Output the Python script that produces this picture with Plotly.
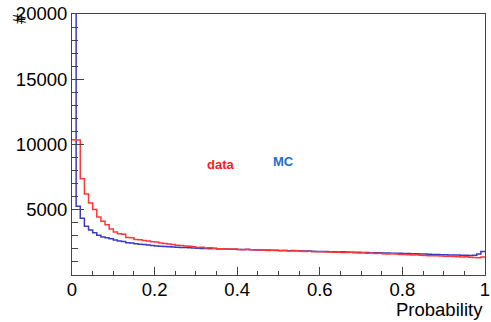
import numpy as np
import plotly.graph_objects as go

n_bins = 100
x_min, x_max = 0.0, 1.0

data_counts = [
    10370, 10350, 7380, 6210, 5520, 5010, 4450, 4120, 3860, 3530,
    3300, 3170, 3120, 2870, 2850, 2720, 2700, 2640, 2600, 2550,
    2520, 2460, 2420, 2370, 2330, 2280, 2260, 2230, 2200, 2160,
    2100, 2120, 2060, 2080, 2050, 2010, 2020, 1980, 2000, 1990,
    1960, 1940, 1970, 1930, 1920, 1940, 1900, 1880, 1900, 1870,
    1860, 1880, 1840, 1830, 1850, 1820, 1800, 1820, 1790, 1780,
    1790, 1760, 1770, 1740, 1750, 1730, 1720, 1740, 1700, 1690,
    1700, 1670, 1680, 1650, 1660, 1630, 1610, 1620, 1600, 1580,
    1570, 1560, 1540, 1550, 1520, 1500, 1480, 1470, 1480, 1450,
    1430, 1440, 1420, 1400, 1380, 1390, 1360, 1340, 1320, 1380,
]

mc_counts = [
    26000, 5260, 4350, 3730, 3450, 3230, 3050, 2920, 2850, 2770,
    2680, 2600, 2560, 2480, 2460, 2400, 2350, 2330, 2300, 2260,
    2220, 2200, 2190, 2160, 2140, 2130, 2110, 2100, 2080, 2070,
    2050, 2040, 2030, 2020, 2030, 2000, 1990, 1990, 1980, 1970,
    1960, 1950, 1960, 1940, 1930, 1920, 1910, 1920, 1900, 1890,
    1880, 1870, 1860, 1870, 1850, 1840, 1830, 1830, 1820, 1810,
    1800, 1800, 1790, 1780, 1770, 1780, 1760, 1750, 1740, 1740,
    1730, 1720, 1710, 1700, 1700, 1690, 1680, 1670, 1670, 1660,
    1650, 1640, 1630, 1620, 1610, 1600, 1590, 1580, 1570, 1560,
    1550, 1540, 1530, 1530, 1520, 1510, 1500, 1520, 1600, 1800,
]

y_ticks = [5000, 10000, 15000, 20000]
x_ticks = [0, 0.2, 0.4, 0.6, 0.8, 1]
x_tick_labels = ["0", "0.2", "0.4", "0.6", "0.8", "1"]

edges = np.linspace(x_min, x_max, n_bins + 1)

def step_xy(counts):
    xs = list(edges)
    ys = list(counts) + [counts[-1]]
    return xs, ys

fig = go.Figure()
xs, ys = step_xy(mc_counts)
fig.add_trace(go.Scatter(x=xs, y=ys, mode="lines", line=dict(color="#3a3ac4", width=1.5, shape="hv"),
                         name="MC", showlegend=False, cliponaxis=True))
xs, ys = step_xy(data_counts)
fig.add_trace(go.Scatter(x=xs, y=ys, mode="lines", line=dict(color="#ff3838", width=1.5, shape="hv"),
                         name="data", showlegend=False, cliponaxis=True))

font_family = "Liberation Sans, Arial, sans-serif"
axis_color = "#444444"

fig.update_layout(
    width=491, height=322,
    margin=dict(l=72, r=1, t=14, b=47),
    paper_bgcolor="white", plot_bgcolor="white",
    font=dict(family=font_family, size=18.5, color="black"),
    xaxis=dict(
        range=[x_min, x_max], showgrid=False, zeroline=False,
        showline=True, linecolor=axis_color, linewidth=1, mirror=True,
        ticks="inside", ticklen=8, tickcolor=axis_color, tickwidth=1,
        tickvals=x_ticks, ticktext=x_tick_labels,
        tickfont=dict(size=18.5, family=font_family),
        ticklabeloverflow="allow", ticklabelstandoff=-2,
        minor=dict(dtick=0.05, ticks="inside", ticklen=4, tickcolor=axis_color, tickwidth=1),
    ),
    yaxis=dict(
        range=[0, 20000], showgrid=False, zeroline=False,
        showline=True, linecolor=axis_color, linewidth=1, mirror=True,
        ticks="inside", ticklen=12, tickcolor=axis_color, tickwidth=1,
        tickvals=y_ticks, ticktext=[str(v) for v in y_ticks],
        tickfont=dict(size=18.5, family=font_family),
        ticklabeloverflow="allow",
        minor=dict(dtick=1000, ticks="inside", ticklen=6, tickcolor=axis_color, tickwidth=1),
    ),
)

fig.add_annotation(text="Probability", xref="paper", yref="paper", x=1.0, y=0, yshift=-34,
                   xanchor="right", yanchor="middle", showarrow=False,
                   font=dict(size=18.5, family=font_family, color="black"))
fig.add_annotation(text="#", xref="paper", yref="paper", x=0, xshift=-53, y=1.0, yshift=-5,
                   xanchor="center", yanchor="middle", textangle=-90, showarrow=False,
                   font=dict(size=18.5, family=font_family, color="black"))
fig.add_annotation(text="<b>data</b>", x=0.361, y=8450, xanchor="center", yanchor="middle",
                   showarrow=False, font=dict(size=13, family=font_family, color="#ff1a1a"))
fig.add_annotation(text="<b>MC</b>", x=0.513, y=8720, xanchor="center", yanchor="middle",
                   showarrow=False, font=dict(size=13, family=font_family, color="#1e6fc2"))

fig.write_html("out.html")
